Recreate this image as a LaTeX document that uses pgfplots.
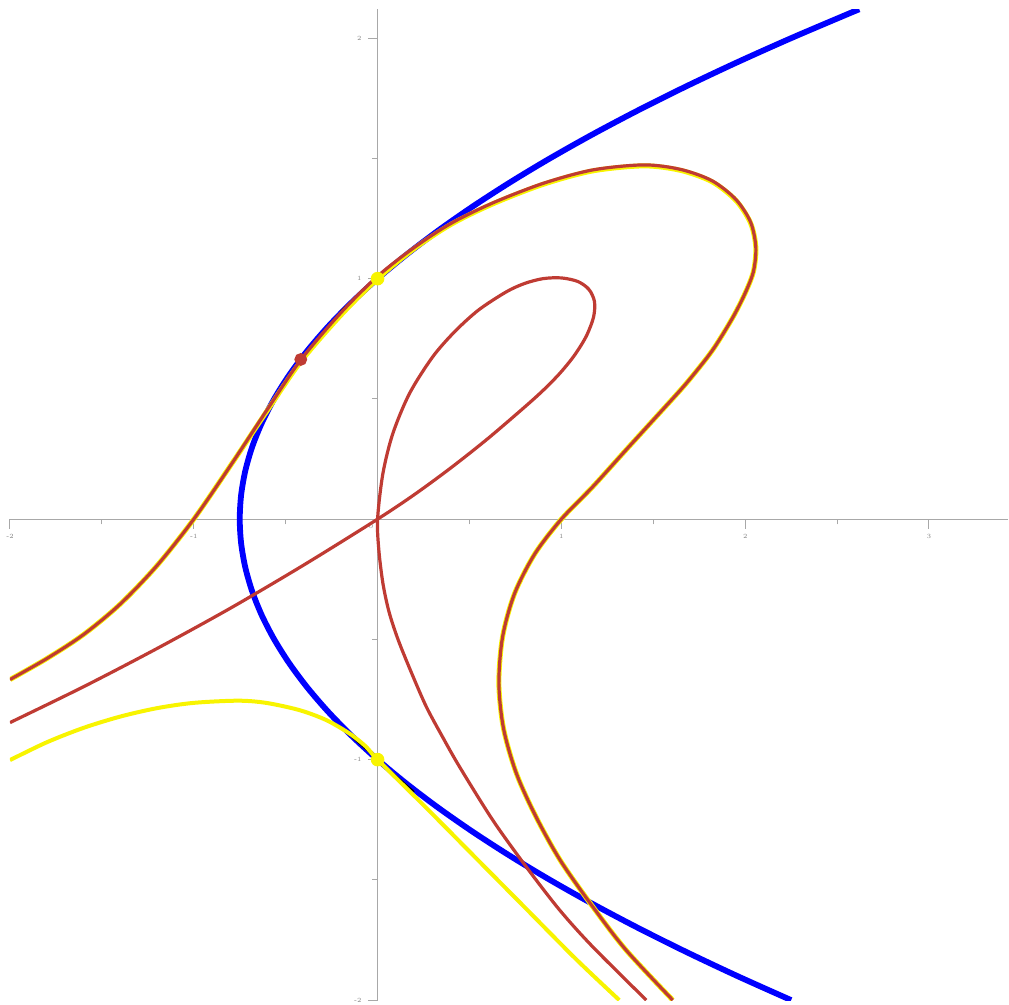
\documentclass[border=0pt]{standalone}
\usepackage{pgfplots}
\pgfplotsset{compat=1.18}
\definecolor{curveblue}{HTML}{0000FF}
\definecolor{curvered}{HTML}{BF3B33}
\definecolor{curveyellow}{HTML}{F8F400}
\definecolor{axisgray}{HTML}{A8A8A8}

\begin{document}
\begin{tikzpicture}
\begin{axis}[scale only axis, width=249.5pt, height=247.7pt,
  axis lines=middle, axis line style={axisgray, line width=0.3pt, -},
  xmin=-2, xmax=3.43, ymin=-2, ymax=2.12,
  xtick={-2,-1,1,2,3}, ytick={-2,-1,1,2},
  extra x ticks={-0.035}, extra x tick labels={0},
  extra x tick style={major tick length=0pt},
  minor xtick={-1.5,-0.5,0.5,1.5,2.5}, minor ytick={-1.5,-0.5,0.5,1.5},
  tick align=outside, major tick length=2.4pt, minor tick length=1.3pt,
  tick style={axisgray, line width=0.25pt},
  /pgf/number format/assume math mode=true,
  ticklabel style={font=\fontsize{1.6}{2}\selectfont, text=gray, inner sep=0.3pt},
  xticklabel style={anchor=north, yshift=-0.9pt},
  yticklabel style={anchor=east, xshift=-1.15pt}]
% blue parabola
\addplot[curveblue, line width=1.45pt, smooth] coordinates {
(2.25,-2.0) (1.9575,-1.9) (1.68,-1.8) (1.4175,-1.7) (1.17,-1.6) (0.9375,-1.5)
(0.72,-1.4) (0.5175,-1.3) (0.33,-1.2) (0.1575,-1.1) (0,-1.0) (-0.1425,-0.9)
(-0.27,-0.8) (-0.3825,-0.7) (-0.48,-0.6) (-0.5625,-0.5) (-0.63,-0.4) (-0.6825,-0.3)
(-0.72,-0.2) (-0.7425,-0.1) (-0.75,0) (-0.7425,0.1) (-0.72,0.2) (-0.6825,0.3)
(-0.63,0.4) (-0.5625,0.5) (-0.48,0.6) (-0.3825,0.7) (-0.27,0.8) (-0.1425,0.9)
(0,1.0) (0.1575,1.1) (0.33,1.2) (0.5175,1.3) (0.72,1.4) (0.9375,1.5) (1.17,1.6)
(1.4175,1.7) (1.68,1.8) (1.9575,1.9) (2.25,2.0) (2.5575,2.1) (2.6208,2.12)};
% tangent segments
\addplot[black, line width=0.3pt] coordinates {(-0.2,0.8667) (0.2,1.1333)};
\addplot[black, line width=0.3pt] coordinates {(-0.2,-0.8667) (0.2,-1.1333)};
% yellow, lower branch
\addplot[curveyellow, line width=1.0pt, smooth] coordinates {
(-2.0,-1.002) (-1.8,-0.928) (-1.6,-0.868) (-1.4,-0.821) (-1.2,-0.786)
(-1.0,-0.764) (-0.76,-0.755) (-0.607,-0.764) (-0.426,-0.794) (-0.281,-0.835)
(-0.154,-0.891) (-0.063,-0.946) (0,-1.0) (0.264,-1.2) (0.536,-1.41)
(0.808,-1.62) (1.08,-1.83) (1.315,-2.0)};
% yellow, upper branch
\addplot[curveyellow, line width=1.25pt, smooth] coordinates {
(-2.0,-0.667) (-1.8,-0.58) (-1.6,-0.48) (-1.4,-0.353) (-1.2,-0.193) (-1.0,0.0)
(-0.8,0.223) (-0.6,0.452) (-0.418,0.655) (-0.2,0.848) (0,1.0) (0.2,1.125)
(0.4,1.226) (0.627,1.311) (0.9,1.392) (1.17,1.448) (1.45,1.469) (1.65,1.45)
(1.82,1.403) (1.95,1.325) (2.03,1.23) (2.058,1.13) (2.045,1.03) (2.0,0.94)
(1.93,0.835) (1.82,0.70) (1.68,0.565) (1.533,0.44) (1.352,0.288) (1.17,0.134)
(1.0,0) (0.855,-0.145) (0.745,-0.31) (0.68,-0.49) (0.66,-0.683) (0.685,-0.87)
(0.755,-1.057) (0.862,-1.238) (0.995,-1.42) (1.17,-1.611) (1.352,-1.792) (1.606,-2.0)};
% red, outer curve
\addplot[curvered, line width=0.8pt, smooth] coordinates {
(-2.0,-0.667) (-1.8,-0.58) (-1.6,-0.48) (-1.4,-0.353) (-1.2,-0.193) (-1.0,0.0)
(-0.8,0.223) (-0.6,0.456) (-0.418,0.662) (-0.2,0.858) (0,1.01) (0.2,1.13)
(0.4,1.23) (0.627,1.315) (0.9,1.396) (1.17,1.452) (1.45,1.473) (1.65,1.454)
(1.82,1.407) (1.95,1.329) (2.03,1.234) (2.058,1.13) (2.045,1.03) (2.0,0.94)
(1.93,0.835) (1.82,0.70) (1.68,0.565) (1.533,0.44) (1.352,0.288) (1.17,0.134)
(1.0,0) (0.855,-0.145) (0.745,-0.31) (0.68,-0.49) (0.66,-0.683) (0.685,-0.87)
(0.755,-1.057) (0.862,-1.238) (0.995,-1.42) (1.17,-1.611) (1.352,-1.792) (1.606,-2.0)};
% red, curve with the loop through the origin
\addplot[curvered, line width=0.8pt, smooth] coordinates {
(-2.0,-0.846) (-1.6,-0.697) (-1.2,-0.538) (-0.8,-0.37) (-0.4,-0.19) (0,0)
(0.2,0.102) (0.4,0.214) (0.6,0.335) (0.8,0.466) (0.9,0.535) (0.99,0.605)
(1.07,0.68) (1.135,0.76) (1.175,0.84) (1.18,0.905) (1.15,0.955) (1.09,0.988)
(1.0,1.003) (0.9,1.0) (0.8,0.98) (0.7,0.945) (0.55,0.87) (0.42,0.78) (0.30,0.675)
(0.174,0.523) (0.083,0.356) (0.029,0.19) (0,0) (0.007,-0.13) (0.029,-0.267)
(0.062,-0.385) (0.112,-0.502) (0.185,-0.64) (0.265,-0.78) (0.353,-0.905)
(0.446,-1.03) (0.627,-1.252) (0.808,-1.445) (0.99,-1.625) (1.17,-1.778) (1.462,-2.0)};
% points
\addplot[only marks, mark=*, mark size=1.5pt, curveyellow] coordinates {(0,1) (0,-1)};
\addplot[only marks, mark=*, mark size=1.4pt, curvered] coordinates {(-0.418,0.664)};
\end{axis}
\pgfresetboundingbox
\path ([shift={(-2.5pt,-1pt)}]current axis.south west) rectangle ([shift={(0.25pt,2.33pt)}]current axis.north east);
\end{tikzpicture}
\end{document}
